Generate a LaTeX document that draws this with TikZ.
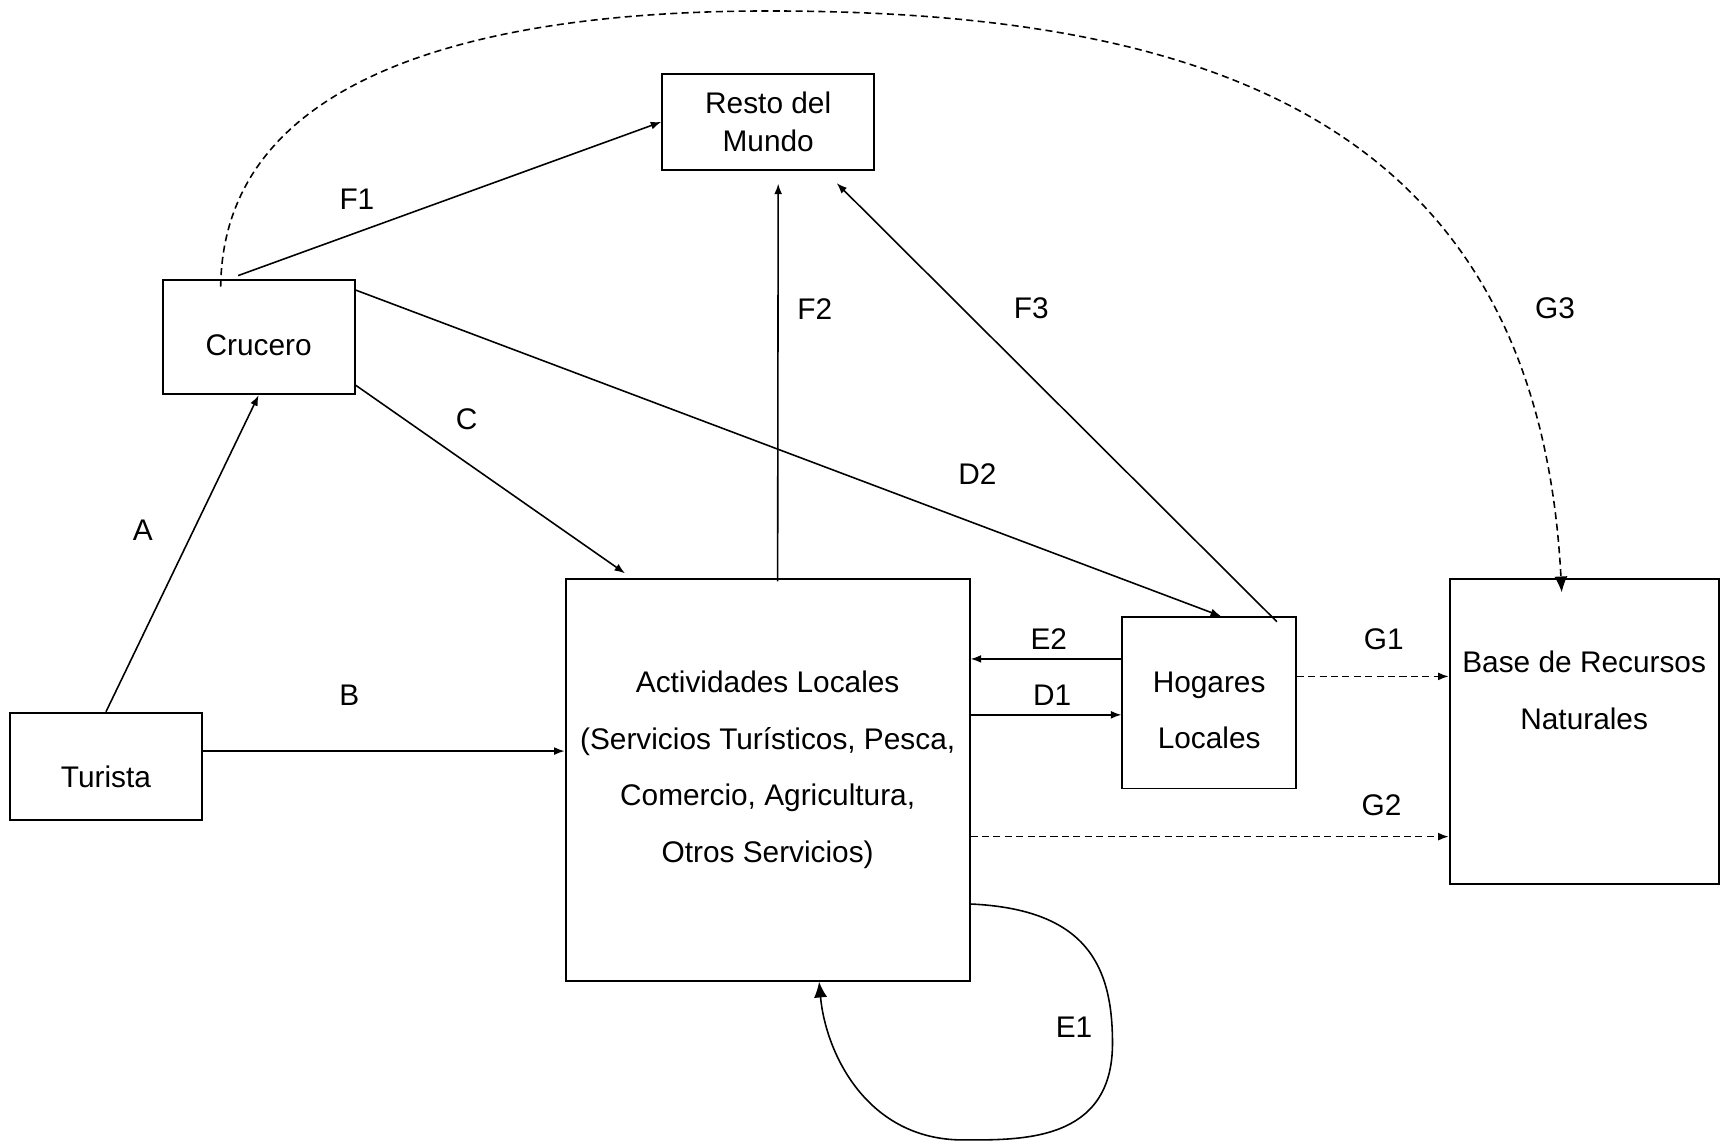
\documentclass[tikz,border=0pt]{standalone}
\usepackage{fontspec}
\setmainfont{Liberation Sans}
\usetikzlibrary{arrows.meta}

\begin{document}
\begin{tikzpicture}[x=0.022cm,y=-0.022cm,>={Latex[length=6pt,width=4.5pt]},
	box/.style={draw,line width=1.1pt,inner sep=0pt,align=center,font=\fontsize{17}{32}\selectfont},
	boxtext/.style={align=center,font=\fontsize{17}{32.3}\selectfont},
	lbl/.style={font=\fontsize{17}{20}\selectfont},
	flow/.style={line width=0.9pt,->},
	gas/.style={flow,dash pattern=on 4pt off 2.5pt},
	bigtip/.style={-{Latex[length=9pt,width=7.5pt]}}]
	\useasboundingbox (0,0) rectangle (1568,1042);
	%
	\node[box,minimum width=4.246cm,minimum height=1.936cm,font=\fontsize{17}{21.7}\selectfont] (res) at (699.5,111) {Resto del\\Mundo};
	\node[box,minimum width=3.85cm,minimum height=2.288cm,text height=21pt,text depth=0pt] (cru) at (235.5,307) {Crucero};
	\node[box,minimum width=3.85cm,minimum height=2.156cm,text height=23.6pt,text depth=0pt] (tur) at (96.5,698) {Turista};
	\node[box,minimum width=8.096cm,minimum height=8.052cm] (act) at (699,710) {};
	\node[boxtext] (acttxt) at (699,701) {Actividades Locales\\(Servicios Turísticos, Pesca,\\Comercio, Agricultura,\\Otros Servicios)};
	\node[box,minimum width=3.476cm,minimum height=3.432cm] (hog) at (1101,640) {};
	\node[boxtext] (hogtxt) at (1101,647) {Hogares\\Locales};
	\node[box,minimum width=5.39cm,minimum height=6.116cm] (bnr) at (1442.5,666) {};
	\node[boxtext] (bnrtxt) at (1442.5,628.5) {Base de Recursos\\Naturales};
	%
	\node[lbl] (lf1) at (325,181) {F1};
	\node[lbl] (lf2) at (742,281) {F2};
	\node[lbl] (lf3) at (939,281) {F3};
	\node[lbl] (lg3) at (1416,281) {G3};
	\node[lbl] (lc) at (425,382) {C};
	\node[lbl] (ld2) at (890,432) {D2};
	\node[lbl] (la) at (130,483) {A};
	\node[lbl] (lb) at (318,633) {B};
	\node[lbl] (le2) at (955,582) {E2};
	\node[lbl] (ld1) at (958,633) {D1};
	\node[lbl] (lg1) at (1260,582) {G1};
	\node[lbl] (lg2) at (1258,733) {G2};
	\node[lbl] (le1) at (978,935) {E1};
	%
	\coordinate (bs) at ([yshift=.31cm]tur.east);
	\coordinate (e2s) at ([yshift=.88cm]hog.west);
	\coordinate (d1s) at ([yshift=1.3cm]act.east);
	\coordinate (g1s) at ([yshift=.53cm]hog.east);
	\coordinate (g2s) at ([yshift=-1.14cm]act.east);
	%
	\draw[flow] (tur.north) -- (cru.south);
	\draw[flow] (bs) -- (bs -| act.west);
	\draw[flow] ([yshift=.2cm]cru.south east) -- ([xshift=1.21cm,yshift=.09cm]act.north west);
	\draw[flow] ([yshift=-.22cm]cru.north east) -- ([xshift=.24cm]hog.north);
	\draw[flow] ([xshift=-.41cm,yshift=.07cm]cru.north) -- (res.west);
	\draw[flow] ([xshift=.2cm,yshift=-.07cm]act.north) -- ([xshift=.2cm,yshift=-.25cm]res.south);
	\draw[flow] ([xshift=-.4cm,yshift=-.11cm]hog.north east) -- ([xshift=-.77cm,yshift=-.24cm]res.south east);
	\draw[flow] (e2s) -- (e2s -| act.east);
	\draw[flow] (d1s) -- (d1s -| hog.west);
	\draw[gas] (g1s) -- (g1s -| bnr.west);
	\draw[gas] (g2s) -- (g2s -| bnr.west);
	%
	\draw[gas,bigtip] ([xshift=-.76cm,yshift=-.15cm]cru.north) .. controls (203,80) and (410,10) .. (700,10)
		.. controls (1100,10) and (1400,110) .. ([xshift=-.45cm,yshift=-.29cm]bnr.north);
	\draw[flow,bigtip] ([yshift=-2.49cm]act.east) .. controls (990,828) and (1013,880) .. (1013,950)
		.. controls (1013,1040) and (930,1038) .. (877,1038)
		.. controls (790,1038) and (752,960) .. ([xshift=1.03cm]act.south);
\end{tikzpicture}
\end{document}
